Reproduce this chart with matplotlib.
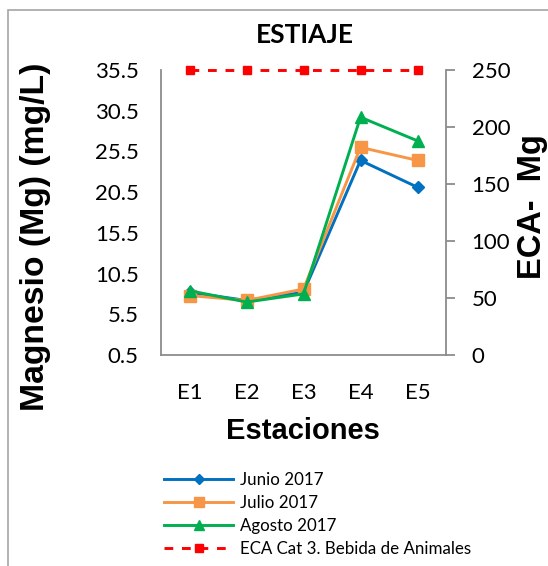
import matplotlib
matplotlib.use("Agg")
import matplotlib.pyplot as plt
from matplotlib.patches import Rectangle

stations = ["E1", "E2", "E3", "E4", "E5"]
junio = [8.2, 7.2, 8.2, 24.4, 21.1]
julio = [7.8, 7.2, 8.6, 26.0, 24.4]
agosto = [8.4, 7.0, 8.0, 29.7, 26.8]
eca = [250, 250, 250, 250, 250]
left_ticks = [0.5, 5.5, 10.5, 15.5, 20.5, 25.5, 30.5, 35.5]
right_ticks = [0, 50, 100, 150, 200, 250]

W, H = 548, 566
fig = plt.figure(figsize=(W / 100, H / 100), dpi=100)

def fx(px):
    return px / W

def fy(py):
    return 1 - py / H

# chart border (clipped by figure on right/bottom)
fig.patches.append(Rectangle((fx(8), fy(600)), fx(600), fy(10) - fy(600),
                             transform=fig.transFigure, fill=False,
                             edgecolor="#A6A6A6", linewidth=1.2, zorder=0))

ax = fig.add_axes([fx(161), fy(355), fx(446) - fx(161), fy(70) - fy(355)])
ax2 = ax.twinx()

x = list(range(len(stations)))
tickfont = "Lato"
lw = 2.1
ax.plot(x, junio, color="#0070C0", lw=lw, marker="D", ms=6, label="Junio 2017", zorder=3)
ax.plot(x, julio, color="#F79646", lw=lw, marker="s", ms=8, label="Julio 2017", zorder=4)
ax.plot(x, agosto, color="#00B050", lw=lw, marker="^", ms=8, label="Agosto 2017", zorder=5)
ax2.plot(x, eca, color="#FF0000", lw=lw, ls=(0, (3, 3)), marker="s", ms=6,
         label="ECA Cat 3. Bebida de Animales", clip_on=False)

ax.set_xlim(-0.5, 4.5)
ax.set_ylim(0.5, 35.5)
ax2.set_ylim(0, 250)
ax.set_xticks(x)
ax.set_xticklabels(stations)
ax.set_yticks(left_ticks)
ax.set_yticklabels([f"{t:.1f}" for t in left_ticks])
ax2.set_yticks(right_ticks)

for a in (ax, ax2):
    for s in a.spines.values():
        s.set_color("#8C8C8C")
        s.set_linewidth(1.3)
    a.spines["top"].set_visible(False)
    a.patch.set_visible(False)
ax2.spines["left"].set_visible(False)
ax2.spines["bottom"].set_visible(False)
ax.spines["right"].set_visible(False)

ax.tick_params(axis="y", length=0, pad=16, labelsize=16)
ax.tick_params(axis="x", length=0, pad=20, labelsize=16)
ax2.tick_params(axis="y", length=6.5, width=1.3, color="#8C8C8C", pad=12, labelsize=16)
for lab in ax.get_xticklabels() + ax.get_yticklabels() + ax2.get_yticklabels():
    lab.set_fontfamily(tickfont)

fig.text(fx(305), fy(35), "ESTIAJE", ha="center", va="center",
         fontsize=19, fontweight="bold", family="Lato")
fig.text(fx(303), fy(431), "Estaciones", ha="center", va="center",
         fontsize=21, fontweight="bold", family="Liberation Sans")
fig.text(fx(36), fy(237), "Magnesio (Mg) (mg/L)", ha="center", va="center",
         rotation=90, fontsize=24.3, fontweight="bold", family="Liberation Sans")
fig.text(fx(532), fy(207), "ECA-  Mg", ha="center", va="center",
         rotation=90, fontsize=23.5, fontweight="bold", family="Liberation Sans")

h1, l1 = ax.get_legend_handles_labels()
h2, l2 = ax2.get_legend_handles_labels()
leg = fig.legend(h1 + h2, l1 + l2, loc="upper left",
                 bbox_to_anchor=(fx(164), fy(472)), frameon=False,
                 prop={"family": "Lato", "size": 12.2},
                 handlelength=4.1, handletextpad=0.4, labelspacing=0.41,
                 markerscale=0.85, borderaxespad=0, borderpad=0)

fig.savefig("out.png", dpi=100)
